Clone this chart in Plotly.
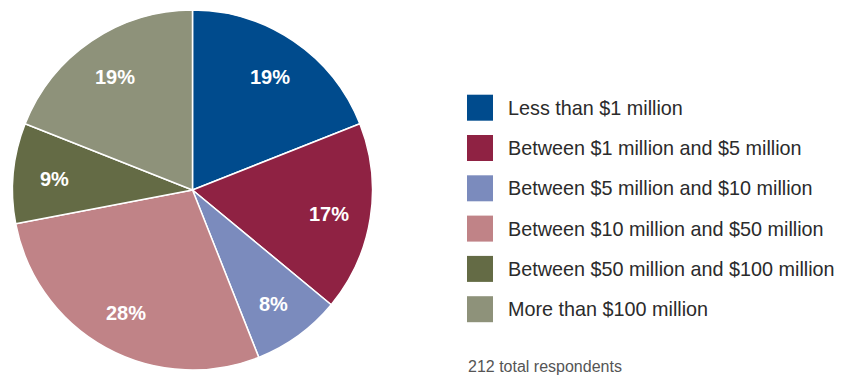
import math
import plotly.graph_objects as go

# Survey data: respondents by annual revenue band
categories = [
    "Less than $1 million",
    "Between $1 million and $5 million",
    "Between $5 million and $10 million",
    "Between $10 million and $50 million",
    "Between $50 million and $100 million",
    "More than $100 million",
]
shares = [19, 17, 8, 28, 9, 19]
colors = ["#004b8d", "#8f2243", "#7b8bbd", "#c08387", "#646b45", "#8e927a"]
footnote = "212 total respondents"

W, H = 841, 375

# pie geometry in pixels
cx, cy, R = 192.5, 190.0, 180.0


def px_x(v):
    return v / W


def px_y(v):
    return 1 - v / H


fig = go.Figure()
fig.add_trace(go.Pie(
    labels=categories,
    values=shares,
    sort=False,
    direction="clockwise",
    rotation=0,
    marker=dict(colors=colors, line=dict(color="white", width=1.5)),
    textinfo="none",
    hoverinfo="label+percent",
    showlegend=False,
    domain=dict(x=[px_x(cx - R), px_x(cx + R)], y=[px_y(cy + R), px_y(cy - R)]),
))

annotations = []
shapes = []

# percentage labels at the middle angle of each slice
total = sum(shares)
cum = 0
for v in shares:
    mid = (cum + v / 2) / total * 2 * math.pi
    cum += v
    r = 0.77 * R
    x = cx + r * math.sin(mid)
    y = cy + 2 - r * math.cos(mid)
    annotations.append(dict(
        x=px_x(x), y=px_y(y), xref="paper", yref="paper",
        text=f"<b>{v}%</b>", showarrow=False,
        font=dict(family="Liberation Sans, Arial", size=20, color="white"),
        xanchor="center", yanchor="middle",
    ))

# legend: colour squares with category names
sq_x0, sq_size, row0, row_step, text_x = 467, 26, 107.7, 40.3, 506
for i, (name, col) in enumerate(zip(categories, colors)):
    yc = row0 + i * row_step
    shapes.append(dict(
        type="rect", xref="paper", yref="paper",
        x0=px_x(sq_x0), x1=px_x(sq_x0 + sq_size),
        y0=px_y(yc + sq_size / 2), y1=px_y(yc - sq_size / 2),
        fillcolor=col, line=dict(width=0),
    ))
    annotations.append(dict(
        x=px_x(text_x), y=px_y(yc), xref="paper", yref="paper",
        text=name, showarrow=False, xanchor="left", yanchor="middle",
        font=dict(family="Liberation Sans, Arial", size=19.8, color="#2b2b2b"),
    ))

annotations.append(dict(
    x=px_x(466), y=px_y(366.5), xref="paper", yref="paper",
    text=footnote, showarrow=False, xanchor="left", yanchor="middle",
    font=dict(family="Liberation Sans, Arial", size=16, color="#555555"),
))

fig.update_layout(
    width=W, height=H,
    margin=dict(l=0, r=0, t=0, b=0),
    paper_bgcolor="white", plot_bgcolor="white",
    annotations=annotations, shapes=shapes,
)

fig.write_html("out.html")
